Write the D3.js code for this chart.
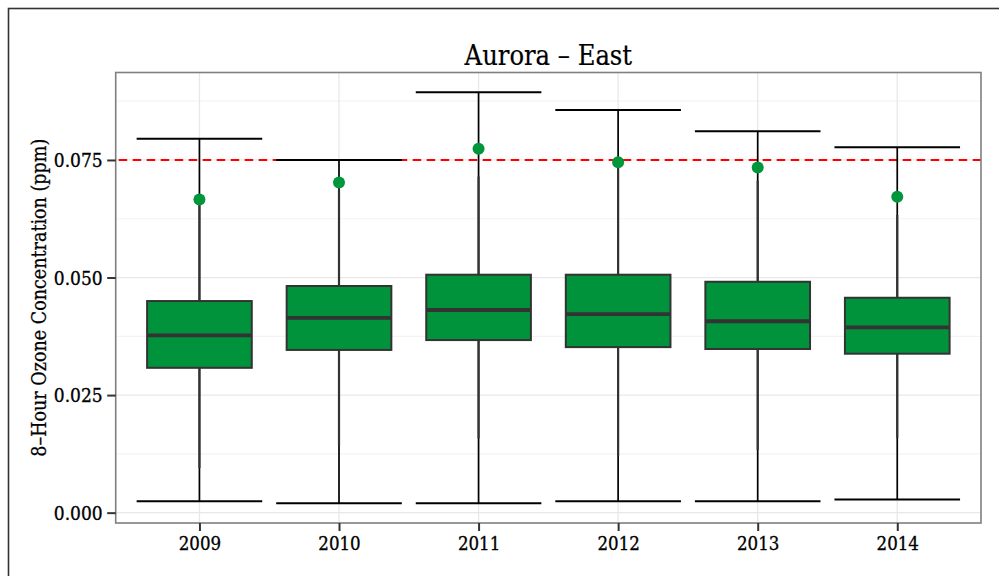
<!DOCTYPE html>
<html>
<head>
<meta charset="utf-8">
<script src="https://cdn.jsdelivr.net/npm/d3@7"></script>
<style>
  html, body { margin: 0; padding: 0; background: #fff; }
  svg { display: block; }
  text { font-family: "DejaVu Serif Condensed", "DejaVu Serif", serif; }
</style>
</head>
<body>
<svg id="chart" width="999" height="576"></svg>
<script>
// ---- data ----
const years = ["2009", "2010", "2011", "2012", "2013", "2014"];
const minVals = [0.0024, 0.0020, 0.0020, 0.0024, 0.0024, 0.0028];
const maxVals = [0.0795, 0.0750, 0.0894, 0.0856, 0.0811, 0.0777];
const lowerWhisker = [0.0095, 0.0142, 0.0158, 0.0121, 0.0133, 0.0159];
const q1Vals = [0.0308, 0.0346, 0.0367, 0.0352, 0.0348, 0.0338];
const medianVals = [0.0377, 0.0414, 0.0431, 0.0422, 0.0407, 0.0394];
const q3Vals = [0.0450, 0.0482, 0.0506, 0.0506, 0.0491, 0.0457];
const upperWhisker = [0.0663, 0.0686, 0.0715, 0.0737, 0.0706, 0.0633];
const pointVals = [0.0666, 0.0702, 0.0774, 0.0745, 0.0734, 0.0672];
const standard = 0.075;
const yTicks = [0.000, 0.025, 0.050, 0.075];
const yMinorTicks = [0.0125, 0.0375, 0.0625, 0.0875];
const titleText = "Aurora \u2013 East";
const yTitle = "8\u2013Hour Ozone Concentration (ppm)";

const data = years.map((y, i) => ({
  year: y, min: minVals[i], max: maxVals[i], lw: lowerWhisker[i], q1: q1Vals[i],
  med: medianVals[i], q3: q3Vals[i], uw: upperWhisker[i], pt: pointVals[i]
}));

// ---- layout ----
const svg = d3.select("#chart");
const panel = { left: 115.7, right: 981, top: 72.5, bottom: 523 };

const x = d3.scalePoint().domain(years).range([panel.left, panel.right]).padding(0.6);
const step = x.step();
const y = d3.scaleLinear().domain([-0.0022, 0.0936]).range([panel.bottom, panel.top]);

const boxColor = "#00933B";
const pointColor = "#00963B";
const fontFam = "DejaVu Serif Condensed, DejaVu Serif, serif";

// outer frame
svg.append("rect").attr("x", 8.5).attr("y", 8.5).attr("width", 1000).attr("height", 600)
  .attr("fill", "#fff").attr("stroke", "#333").attr("stroke-width", 1.6);

// panel background
svg.append("rect").attr("x", panel.left).attr("y", panel.top)
  .attr("width", panel.right - panel.left).attr("height", panel.bottom - panel.top)
  .attr("fill", "#fff");

// minor grid
svg.append("g").selectAll("line").data(yMinorTicks).join("line")
  .attr("x1", panel.left).attr("x2", panel.right)
  .attr("y1", d => y(d)).attr("y2", d => y(d))
  .attr("stroke", "#F3F3F3").attr("stroke-width", 1.2);

// major grid
svg.append("g").selectAll("line").data(yTicks).join("line")
  .attr("x1", panel.left).attr("x2", panel.right)
  .attr("y1", d => y(d)).attr("y2", d => y(d))
  .attr("stroke", "#E8E8E8").attr("stroke-width", 1.3);
svg.append("g").selectAll("line").data(years).join("line")
  .attr("x1", d => x(d)).attr("x2", d => x(d))
  .attr("y1", panel.top).attr("y2", panel.bottom)
  .attr("stroke", "#E8E8E8").attr("stroke-width", 1.3);

// reference line
svg.append("line")
  .attr("x1", panel.left).attr("x2", panel.right)
  .attr("y1", y(standard)).attr("y2", y(standard))
  .attr("stroke", "#FF0000").attr("stroke-width", 2)
  .attr("stroke-dasharray", "8.5,5.5").attr("stroke-dashoffset", -3);

// error bars (min to max)
const eb = svg.append("g");
const capW = step * 0.9;
data.forEach(d => {
  const cx = x(d.year);
  eb.append("line").attr("x1", cx).attr("x2", cx).attr("y1", y(d.min)).attr("y2", y(d.max))
    .attr("stroke", "#000").attr("stroke-width", 1.7);
  eb.append("line").attr("x1", cx - capW / 2).attr("x2", cx + capW / 2)
    .attr("y1", y(d.max)).attr("y2", y(d.max)).attr("stroke", "#000").attr("stroke-width", 2);
  eb.append("line").attr("x1", cx - capW / 2).attr("x2", cx + capW / 2)
    .attr("y1", y(d.min)).attr("y2", y(d.min)).attr("stroke", "#000").attr("stroke-width", 2);
});

// boxplots
const bx = svg.append("g");
const boxW = step * 0.75;
data.forEach(d => {
  const cx = x(d.year);
  bx.append("line").attr("x1", cx).attr("x2", cx).attr("y1", y(d.q3)).attr("y2", y(d.uw))
    .attr("stroke", "#333").attr("stroke-width", 2.2);
  bx.append("line").attr("x1", cx).attr("x2", cx).attr("y1", y(d.q1)).attr("y2", y(d.lw))
    .attr("stroke", "#333").attr("stroke-width", 2.2);
  bx.append("rect").attr("x", cx - boxW / 2).attr("width", boxW)
    .attr("y", y(d.q3)).attr("height", y(d.q1) - y(d.q3))
    .attr("fill", boxColor).attr("stroke", "#333").attr("stroke-width", 2);
  bx.append("line").attr("x1", cx - boxW / 2).attr("x2", cx + boxW / 2)
    .attr("y1", y(d.med)).attr("y2", y(d.med)).attr("stroke", "#333").attr("stroke-width", 3.8);
});

// points
svg.append("g").selectAll("circle").data(data).join("circle")
  .attr("cx", d => x(d.year)).attr("cy", d => y(d.pt)).attr("r", 6)
  .attr("fill", pointColor);

// panel border
svg.append("rect").attr("x", panel.left).attr("y", panel.top)
  .attr("width", panel.right - panel.left).attr("height", panel.bottom - panel.top)
  .attr("fill", "none").attr("stroke", "#7F7F7F").attr("stroke-width", 1.6);

// y axis
const yAxis = d3.axisLeft(y).tickValues(yTicks).tickFormat(d3.format(".3f")).tickSize(8).tickPadding(5);
const gy = svg.append("g").attr("transform", `translate(${panel.left},0)`).call(yAxis);
gy.select(".domain").remove();
gy.selectAll(".tick line").attr("stroke", "#333").attr("stroke-width", 2).attr("x2", -8.5);
gy.selectAll(".tick text").attr("font-size", 19).attr("fill", "#000")
  .attr("stroke", "#000").attr("stroke-width", 0.3)
  .attr("font-family", fontFam).attr("dy", "0.36em");

// x axis
const xAxis = d3.axisBottom(x).tickSize(8).tickPadding(6);
const gx = svg.append("g").attr("transform", `translate(0,${panel.bottom})`).call(xAxis);
gx.select(".domain").remove();
gx.selectAll(".tick line").attr("stroke", "#333").attr("stroke-width", 2);
gx.selectAll(".tick text").attr("font-size", 18.5).attr("fill", "#000")
  .attr("stroke", "#000").attr("stroke-width", 0.3)
  .attr("font-family", fontFam).attr("dy", "0.71em");

// title
svg.append("text").attr("x", (panel.left + panel.right) / 2).attr("y", 65)
  .attr("text-anchor", "middle").attr("font-size", 27).attr("fill", "#000")
  .attr("stroke", "#000").attr("stroke-width", 0.2)
  .text(titleText);

// y title
svg.append("text").attr("transform", `translate(46,${(panel.top + panel.bottom) / 2}) rotate(-90)`)
  .attr("text-anchor", "middle").attr("font-size", 19.5).attr("fill", "#000")
  .attr("stroke", "#000").attr("stroke-width", 0.25)
  .text(yTitle);
</script>
</body>
</html>
